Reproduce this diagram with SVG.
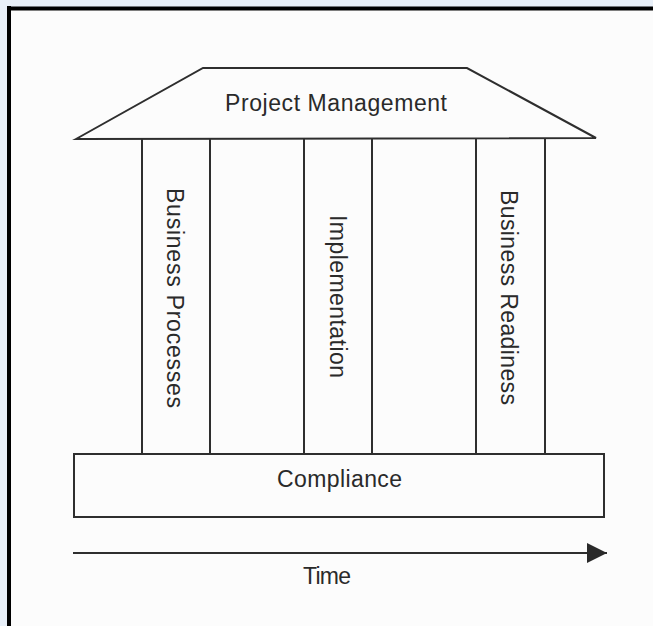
<svg xmlns="http://www.w3.org/2000/svg" width="653" height="626" viewBox="0 0 653 626">
<style>
.ln{fill:none;stroke:#2e2e2e;stroke-width:2}
.tx{font-family:"Liberation Sans",Arial,sans-serif;font-size:23px;fill:#2a2a2a}
</style>
<defs>
<marker id="ah" markerWidth="20" markerHeight="20" refX="20" refY="10" orient="auto" markerUnits="userSpaceOnUse">
<path d="M0,0 L20,10 L0,20 Z" fill="#2a2a2a"/>
</marker>
</defs>
<rect x="0" y="0" width="653" height="626" fill="#e8eff8"/>
<rect x="9" y="8" width="644" height="618" fill="#fcfcfc"/>
<line x1="7" y1="8.5" x2="653" y2="8.5" stroke="#000" stroke-width="4"/>
<line x1="9" y1="6" x2="9" y2="626" stroke="#000" stroke-width="4"/>
<g id="roof">
<path class="ln" d="M76,139 L203,68 L467,68 L596,138 Z"/>
<text class="tx" x="225" y="111" textLength="222" lengthAdjust="spacing">Project Management</text>
</g>
<g id="col-business-processes">
<path class="ln" d="M142,139 V454 M210,139 V454"/>
<text class="tx" transform="translate(167,188) rotate(90)" textLength="220" lengthAdjust="spacing">Business Processes</text>
</g>
<g id="col-implementation">
<path class="ln" d="M304,139 V454 M372,139 V454"/>
<text class="tx" transform="translate(330,215) rotate(90)" textLength="163" lengthAdjust="spacing">Implementation</text>
</g>
<g id="col-business-readiness">
<path class="ln" d="M476,139 V454 M545,139 V454"/>
<text class="tx" transform="translate(501,190) rotate(90)" textLength="215" lengthAdjust="spacing">Business Readiness</text>
</g>
<g id="compliance">
<rect class="ln" x="74" y="454" width="530" height="63"/>
<text class="tx" x="277" y="487" textLength="125" lengthAdjust="spacing">Compliance</text>
</g>
<g id="connectors">
<line class="ln" x1="73" y1="553" x2="607" y2="553" marker-end="url(#ah)"/>
</g>
<g id="time">
<text class="tx" x="303" y="584" textLength="48" lengthAdjust="spacing">Time</text>
</g>
</svg>
